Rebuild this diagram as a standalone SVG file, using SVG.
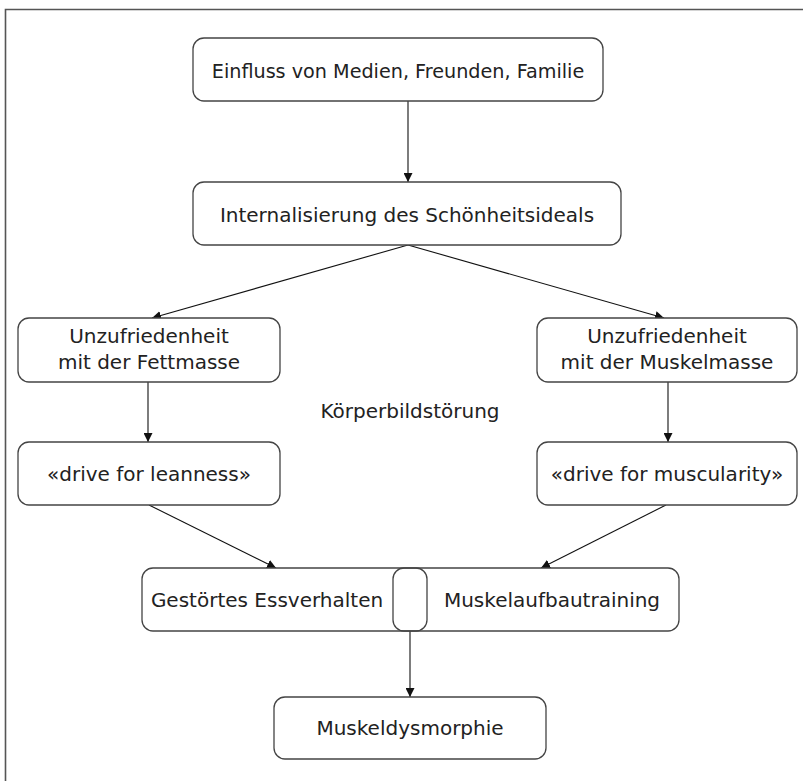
<svg xmlns="http://www.w3.org/2000/svg" width="803" height="781" viewBox="0 0 803 781">
<style>
.box{fill:#fff;stroke:#444;stroke-width:1.3}
.t{font-family:"DejaVu Sans","Liberation Sans",sans-serif;font-size:20px;fill:#222;text-anchor:middle}
.c{stroke:#111;stroke-width:1.1;fill:none}
</style>
<defs>
<marker id="ah" viewBox="0 0 10 10" refX="10" refY="5" markerWidth="9" markerHeight="9" markerUnits="userSpaceOnUse" orient="auto">
<path d="M0,0 L10,5 L0,10 z" fill="#111"/>
</marker>
</defs>
<rect width="803" height="781" fill="#fff"/>
<path d="M5.5,781 V9.5 H803" fill="none" stroke="#555" stroke-width="1.6"/>
<g id="connectors">
<line class="c" x1="408" y1="101" x2="408" y2="182" marker-end="url(#ah)"/>
<line class="c" x1="408" y1="245" x2="152" y2="318" marker-end="url(#ah)"/>
<line class="c" x1="408" y1="245" x2="664" y2="318" marker-end="url(#ah)"/>
<line class="c" x1="148" y1="382" x2="148" y2="442" marker-end="url(#ah)"/>
<line class="c" x1="668" y1="382" x2="668" y2="442" marker-end="url(#ah)"/>
<line class="c" x1="149" y1="505" x2="276" y2="568" marker-end="url(#ah)"/>
<line class="c" x1="666" y1="505" x2="541" y2="568" marker-end="url(#ah)"/>
<line class="c" x1="410" y1="599" x2="410" y2="697" marker-end="url(#ah)"/>
</g>
<g id="n1">
<rect class="box" x="193" y="38" width="410" height="63" rx="11"/>
<text class="t" x="398" y="78" style="font-size:19.2px">Einfluss von Medien, Freunden, Familie</text>
</g>
<g id="n2">
<rect class="box" x="193" y="182" width="428" height="63" rx="11"/>
<text class="t" x="407" y="222">Internalisierung des Schönheitsideals</text>
</g>
<g id="n3">
<rect class="box" x="18" y="318" width="262" height="64" rx="11"/>
<text class="t" x="149" y="343">Unzufriedenheit</text>
<text class="t" x="149" y="369">mit der Fettmasse</text>
</g>
<g id="n4">
<rect class="box" x="537" y="318" width="260" height="64" rx="11"/>
<text class="t" x="667" y="343">Unzufriedenheit</text>
<text class="t" x="667" y="369">mit der Muskelmasse</text>
</g>
<g id="label">
<text class="t" x="410" y="418">Körperbildstörung</text>
</g>
<g id="n5">
<rect class="box" x="18" y="442" width="262" height="63" rx="11"/>
<text class="t" x="149" y="481">«drive for leanness»</text>
</g>
<g id="n6">
<rect class="box" x="537" y="442" width="260" height="63" rx="11"/>
<text class="t" x="667" y="481">«drive for muscularity»</text>
</g>
<g id="n7">
<rect class="box" x="142" y="568" width="537" height="63" rx="11"/>
<text class="t" x="267" y="607">Gestörtes Essverhalten</text>
<text class="t" x="552" y="607">Muskelaufbautraining</text>
<rect x="393" y="568" width="34" height="63" rx="11" fill="none" stroke="#444" stroke-width="1.3"/>
</g>
<g id="n8">
<rect class="box" x="274" y="697" width="272" height="62" rx="11"/>
<text class="t" x="410" y="735">Muskeldysmorphie</text>
</g>
</svg>
